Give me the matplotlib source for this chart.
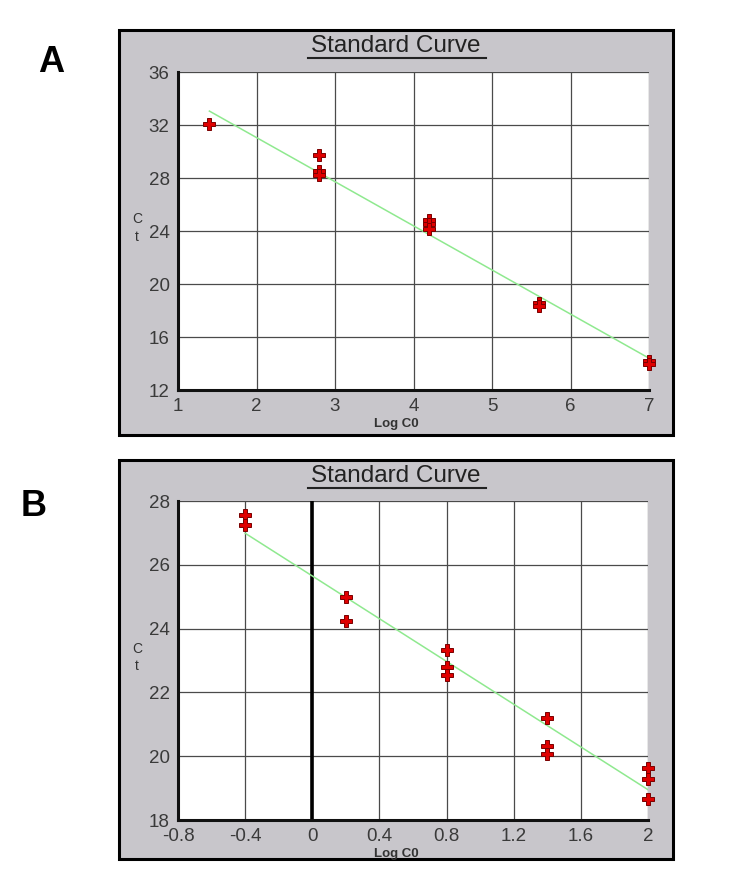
import numpy as np
import matplotlib.pyplot as plt
from matplotlib.patches import Rectangle
from matplotlib.ticker import FuncFormatter

plt.rcParams['font.family'] = ['Liberation Sans', 'DejaVu Sans']

# panel A data
a_x = [1.4, 2.8, 2.8, 2.8, 4.2, 4.2, 4.2, 5.6, 5.6, 7.0, 7.0]
a_ct = [32.1, 29.7, 28.55, 28.25, 24.8, 24.55, 24.15, 18.6, 18.35, 14.2, 13.95]
a_fit_x = [1.4, 7.0]
a_fit_y = [33.05, 14.4]

# panel B data
b_x = [-0.4, -0.4, 0.2, 0.2, 0.8, 0.8, 0.8, 1.4, 1.4, 1.4, 2.0, 2.0, 2.0]
b_ct = [27.55, 27.25, 24.98, 24.25, 23.33, 22.8, 22.55, 21.2, 20.33, 20.08, 19.63, 19.3, 18.65]
b_fit_x = [-0.4, 2.0]
b_fit_y = [26.99, 18.95]

a_xticks = [1, 2, 3, 4, 5, 6, 7]
a_yticks = [12, 16, 20, 24, 28, 32, 36]
b_xticks = [-0.8, -0.4, 0, 0.4, 0.8, 1.2, 1.6, 2.0]
b_yticks = [18, 20, 22, 24, 26, 28]

W, H = 732, 888
fig = plt.figure(figsize=(W / 100, H / 100), dpi=100)


def fx(px):
    return px / W


def fy(py):
    return 1 - py / H


def panel(frame, plot, x, ct, fx_, fy_, xticks, yticks, letter, letter_pos, zero_line=False):
    l, t, r, b = frame
    fig.patches.append(Rectangle((fx(l), fy(b)), fx(r - l), (b - t) / H,
                                 transform=fig.transFigure, facecolor='#c8c6cb',
                                 edgecolor='black', linewidth=2.2, zorder=-5))
    pl, pt, pr, pb = plot
    ax = fig.add_axes([fx(pl), fy(pb), fx(pr - pl), (pb - pt) / H])
    ax.set_facecolor('white')
    ax.set_xlim(xticks[0], xticks[-1])
    ax.set_ylim(yticks[0], yticks[-1])
    ax.set_xticks(xticks)
    ax.set_yticks(yticks)
    ax.xaxis.set_major_formatter(FuncFormatter(lambda v, p: '%g' % round(v, 2)))
    ax.grid(True, color='#4a4a4a', linewidth=0.9)
    ax.set_axisbelow(True)
    ax.tick_params(length=0, labelsize=13.5, labelcolor='#3a3a3a')
    ax.tick_params(axis='x', pad=6)
    ax.tick_params(axis='y', pad=6)
    for s in ['top', 'right']:
        ax.spines[s].set_visible(False)
    for s in ['left', 'bottom']:
        ax.spines[s].set_linewidth(2.2)
        ax.spines[s].set_color('#111111')
    if zero_line:
        ax.axvline(0, color='black', linewidth=2.6, zorder=2)
    ax.plot(fx_, fy_, color='#8fe98f', linewidth=1.1, zorder=3)
    ax.plot(x, ct, linestyle='none', marker='P', markersize=9,
            markerfacecolor='#e00000', markeredgecolor='#7a0000',
            markeredgewidth=0.7, zorder=4, clip_on=False)

    cx = fx((l + r) / 2)
    fig.text(cx, fy(t + 16), 'Standard Curve', ha='center', va='center',
             fontsize=17.5, color='#222222')
    fig.text(cx, fy(pb + 34), 'Log C0', ha='center', va='center',
             fontsize=9.5, color='#333333', fontweight='bold')
    fig.text(fx(137), fy((pt + pb) / 2 - 3), 'C\nt', ha='center', va='center',
             fontsize=10, color='#333333', linespacing=1.35)
    # underline for title
    fig.add_artist(plt.Line2D([fx(308), fx(486)], [fy(t + 28), fy(t + 28)],
                              color='#222222', linewidth=1.5, transform=fig.transFigure))
    fig.text(fx(letter_pos[0]), fy(letter_pos[1]), letter, ha='center', va='center',
             fontsize=26, fontweight='bold')
    return ax


panel((119, 30, 673, 435), (178, 72, 649, 390), a_x, a_ct, a_fit_x, a_fit_y,
      a_xticks, a_yticks, 'A', (51, 62))
panel((119, 460, 673, 859), (178, 501, 648, 820), b_x, b_ct, b_fit_x, b_fit_y,
      b_xticks, b_yticks, 'B', (34, 507), zero_line=True)

fig.savefig('out.png', dpi=100)
